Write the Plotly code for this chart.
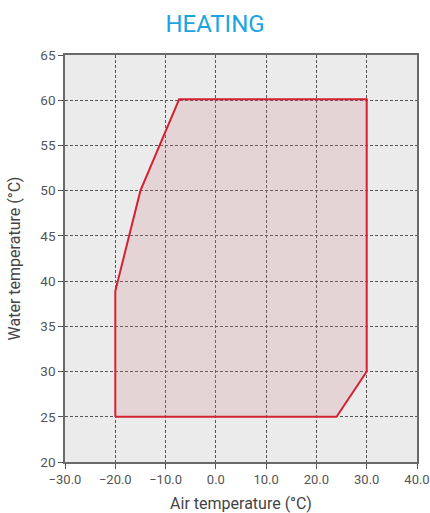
import plotly.graph_objects as go

air_temp = [-20, -20, -15, -7.3, 30, 30, 24, -20]
water_temp = [25, 38.9, 50, 60.1, 60.1, 30, 25, 25]
x_ticks = [-30, -20, -10, 0, 10, 20, 30, 40]
y_ticks = [20, 25, 30, 35, 40, 45, 50, 55, 60, 65]

FONT = "Roboto, Open Sans, sans-serif"
W, H = 430, 513

fig = go.Figure()
fig.add_trace(go.Scatter(
    x=air_temp, y=water_temp, mode="lines", fill="toself",
    fillcolor="rgba(205,130,140,0.22)",
    line=dict(color="#d42232", width=2), hoverinfo="skip", showlegend=False))

axis_common = dict(
    showgrid=True, gridcolor="#555555", griddash="3px,2px", gridwidth=1,
    showline=True, linecolor="#6a6a6a", linewidth=1.5, mirror=True,
    ticks="outside", ticklen=5, tickcolor="#555555",
    tickfont=dict(family=FONT, size=13.5, color="#555555"),
    zeroline=False, automargin=False, ticklabeloverflow="allow",
)

fig.update_xaxes(range=[-30, 40], tickvals=x_ticks, tickformat=".1f",
                 title=dict(text="Air temperature (°C)", standoff=12,
                            font=dict(family=FONT, size=16, color="#444444")),
                 **axis_common)
fig.update_yaxes(range=[20, 65], tickvals=y_ticks,
                 title=dict(text="Water temperature (°C)", standoff=16,
                            font=dict(family=FONT, size=16, color="#444444")),
                 **axis_common)
fig.update_xaxes(tickfont=dict(size=13))

fig.update_layout(
    width=W, height=H,
    margin=dict(l=65, r=13, t=55, b=51),
    plot_bgcolor="#ebebeb", paper_bgcolor="white",
    title=dict(text="HEATING", x=0.5, xanchor="center", y=1 - 24 / H, yanchor="middle",
               automargin=False,
               font=dict(family=FONT, size=24, color="#1aa5e2")),
)

# remove the page's default body margin so the 430x513 figure fills the window exactly
fig.write_html(
    "out.html",
    config={"displayModeBar": False},
    post_script=("document.body.style.margin='0';"
                 "document.documentElement.style.overflow='hidden';"
                 "document.body.style.overflow='hidden';"),
)
